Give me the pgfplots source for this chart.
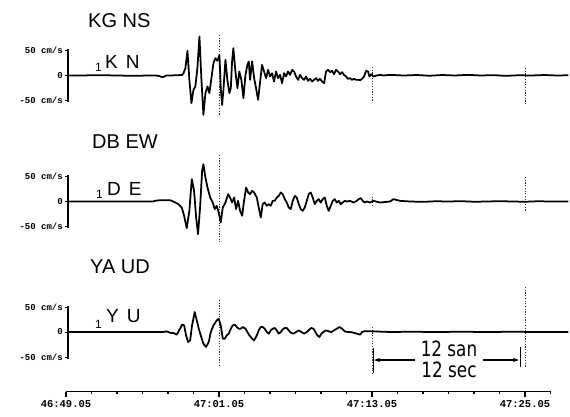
\documentclass[border=0pt]{standalone}
\usepackage{fontspec}
\setmainfont{Liberation Sans}
\newfontfamily\tickfont{Liberation Mono}
\newfontfamily\annfont{DejaVu Sans}[FakeStretch=0.8]
\usepackage{pgfplots}
\pgfplotsset{compat=1.18}
\usepackage{pgfplotstable}
\usetikzlibrary{arrows.meta}

% KG NS (t in s from 46:49.05, v in cm/s)
\pgfplotstableread{
t v
0.15 0
3.0 0.5
5.0 -0.5
7.0 0
7.3 -1
7.5 -3
7.7 -2.5
7.85 0
8.16 0
9.10 1
9.20 4
9.36 14.7
9.52 49.3
9.67 -8.7
9.83 -55.3
9.99 -28.7
10.14 -22
10.30 14.7
10.46 78
10.61 -5.3
10.77 -78.7
10.93 -35.3
11.09 -22
11.24 -35.3
11.40 -5.3
11.56 24.7
11.71 34.7
11.87 29.3
12.03 41.3
12.13 -25.3
12.24 -58.7
12.34 -28.7
12.50 31.3
12.65 -8.7
12.81 -35.3
12.92 -25.3
13.02 28
13.12 54.7
13.28 8
13.44 -25.3
13.59 8
13.75 -8.7
13.91 -45.3
14.07 1.3
14.22 21.3
14.33 28
14.43 -8.7
14.59 28
14.75 -5.3
14.90 -25.3
15.06 -48.7
15.22 -12
15.37 21.3
15.53 8
15.69 -5.3
15.84 11.3
16.00 -2
16.16 4.7
16.31 -12
16.47 8
16.63 -5.3
16.78 1.3
16.94 -15.3
17.10 4.7
17.25 -2
17.41 8
17.57 1.3
17.73 11.3
17.88 8
18.04 -2
18.20 -8.7
18.35 1.3
18.51 -5.3
18.67 -8.7
18.82 -2
18.98 -10.7
19.14 -6.7
19.29 -12
19.45 -8.7
19.61 -5.3
19.76 -10.7
19.92 -6.7
20.08 -12
20.24 -15.3
20.39 8
20.55 11.3
20.71 6.7
20.86 9.3
21.02 2.7
21.18 11.3
21.33 8
21.49 2.7
21.65 6.7
21.80 1.3
21.96 -2
22.12 -6.7
22.27 -5.3
22.43 -8.7
22.59 -6.7
22.75 -8.7
22.90 -8.7
23.06 -9.3
23.22 -6.7
23.37 -2
23.53 9.3
23.69 8
23.79 -2
23.95 2.7
24.10 -2
24.37 0
24.63 1.3
24.89 0
25.41 1.3
26.5 0
27.5 1
28.5 -0.5
29.5 1
30.5 0
31.5 1.3
32.5 0
33.5 0.7
34.5 -0.7
35.5 0.5
36.5 0
37.5 1
38.5 0
39.4 0.5
}\kgns

% DB EW
\pgfplotstableread{
t v
0.15 0
5.0 0
6.8 0
7.1 2
7.4 2.5
8.16 2.5
8.42 0
8.81 -5.3
9.07 -12
9.26 -28.7
9.46 -53.3
9.67 -18.7
9.86 44.7
10.04 21.3
10.20 -32
10.35 -65.3
10.51 -12
10.67 61.3
10.77 74.7
10.93 48
11.09 28
11.30 8
11.50 -2
11.66 -15.3
11.82 -8.7
11.97 -22
12.13 -42
12.29 -12
12.50 -2
12.71 14.7
12.86 8
13.02 -2
13.18 8
13.33 -15.3
13.49 1.3
13.65 -18.7
13.81 -28.7
13.96 1.3
14.12 28
14.28 18
14.43 14.7
14.59 21.3
14.75 18
14.96 8
15.11 -12
15.27 -32
15.42 -5.3
15.58 -2
15.74 -8.7
15.90 -5.3
16.05 -8.7
16.21 1.3
16.37 1.3
16.52 8
16.68 11.3
16.84 18
16.99 14.7
17.15 4.7
17.31 -2
17.46 -12
17.62 -15.3
17.78 1.3
17.94 11.3
18.09 8
18.25 -5.3
18.41 -15.3
18.56 -18.7
18.72 -12
18.88 1.3
19.03 14.7
19.19 18
19.35 8
19.50 -5.3
19.66 1.3
19.82 4.7
19.97 -2
20.13 4.7
20.29 8
20.45 -8.7
20.60 -18.7
20.76 -8.7
20.92 1.3
21.07 4.7
21.23 -2
21.39 1.3
21.54 -5.3
21.70 -2
21.86 1.3
22.01 0
22.27 1.3
22.54 -2
22.80 1.3
22.95 4.7
23.11 6.7
23.27 1.3
23.43 -2
23.58 0
23.84 -2
24.11 1.3
24.63 -2
25.41 0
25.68 4.7
26.2 1.3
27.0 0
28.0 -0.7
29.0 0.5
30.0 0
31.0 0.7
32.0 -0.5
33.0 0
34.0 0.7
35.0 0
36.0 -0.5
37.0 0.5
38.0 0
39.4 0
}\dbew

% YA UD
\pgfplotstableread{
t v
0.15 0
5.0 0
7.6 0
7.9 1.3
8.2 -2
8.42 -2
8.68 -5.3
8.94 6.7
9.10 14.7
9.26 13.3
9.41 -6.7
9.57 -20
9.73 -16.7
9.88 13.3
10.09 40
10.25 23.3
10.41 6.7
10.56 -6.7
10.77 -23.3
10.98 -30
11.19 -20
11.35 0
11.56 13.3
11.82 23.3
11.97 26.7
12.13 13.3
12.29 -13.3
12.45 -13.3
12.60 -6.7
12.76 -3.3
12.92 6.7
13.07 13.3
13.23 14.7
13.39 10
13.54 6.7
13.70 6.7
13.86 10
14.07 6.7
14.22 0
14.38 -6.7
14.59 -13.3
14.75 -16.7
14.96 -6.7
15.11 3.3
15.27 10
15.42 10
15.58 6.7
15.74 0
15.90 -3.3
16.05 3.3
16.21 6.7
16.37 8
16.52 3.3
16.68 -3.3
16.84 0
16.99 5.3
17.15 8
17.31 8
17.46 3.3
17.62 -1.3
17.83 -3.3
18.04 0
18.25 3.3
18.46 0
18.67 -3.3
18.88 0
19.09 5.3
19.24 8
19.40 6.7
19.56 0
19.71 -6.7
19.87 -10
20.03 -3.3
20.18 0
20.39 3.3
20.60 1.3
20.81 0
21.02 3.3
21.23 6.7
21.44 10
21.65 6.7
21.86 1.3
22.07 0
22.27 0
22.54 -1.3
22.80 -3.3
23.06 -5.3
23.22 0
23.37 1.3
23.58 1.3
24.11 1.3
25.41 0
27 0.5
29 0
31 0.5
33 0
35 0.5
37 0
39.4 0
}\yaud

\pgfplotsset{
  trace/.style={scale only axis, anchor=south west, width=500.4pt, height=53pt,
    xmin=0.15, xmax=39.4, ymin=-53, ymax=53,
    axis x line=none, axis y line=left, y axis line style={-, line width=1.1pt},
    clip=false, xtick=\empty, ytick={-50,0,50}, yticklabels={-50 cm/s,0,50 cm/s},
    tick align=outside, major tick length=3pt, ytick style={line width=1pt, black},
    yticklabel style={font=\fontsize{9}{9}\selectfont\tickfont\bfseries, inner sep=2pt}},
  sig/.style={black, line width=1.75pt, line join=round, mark=none},
  vdash/.style={black!80, line width=0.9pt, dash pattern=on 1.2pt off 1.5pt, mark=none},
}

\begin{document}
\begin{tikzpicture}
\useasboundingbox (0,0) rectangle (570pt,-416pt);

% panel 1
\begin{axis}[trace, at={(68pt,-102pt)}]
\addplot[vdash] coordinates {(12,81) (12,-79)};
\addplot[vdash] coordinates {(24,17) (24,-50)};
\addplot[vdash] coordinates {(36,15) (36,-59)};
\addplot[sig] table[x=t, y=v] {\kgns};
\end{axis}

% panel 2
\begin{axis}[trace, at={(68pt,-228pt)}]
\addplot[vdash] coordinates {(12,93) (12,-81)};
\addplot[vdash] coordinates {(24,10) (24,-10)};
\addplot[vdash] coordinates {(36,49) (36,-21)};
\addplot[sig] table[x=t, y=v] {\dbew};
\end{axis}

% panel 3
\begin{axis}[trace, at={(68pt,-358.5pt)}]
\addplot[vdash] coordinates {(12,64) (12,-70)};
\addplot[vdash] coordinates {(24,10) (24,-82)};
\addplot[vdash] coordinates {(36,90) (36,-72)};
\addplot[sig] table[x=t, y=v] {\yaud};
\end{axis}

% time axis
\begin{axis}[scale only axis, anchor=south west, at={(66pt,-391.5pt)},
  width=484.5pt, height=10pt, xmin=0, xmax=38, ymin=0, ymax=1,
  axis x line=bottom, axis y line=none, x axis line style={-, line width=1.3pt},
  xtick={0,12,24,36}, xticklabels={46:49.05,47:01.05,47:13.05,47:25.05},
  minor xtick={2,4,6,8,10,14,16,18,20,22,26,28,30,32,34,38},
  tick align=outside, major tick length=5pt, minor tick length=2.5pt,
  xtick style={line width=1.1pt, black}, ytick=\empty,
  xticklabel style={font=\fontsize{10.5}{10.5}\selectfont\tickfont\bfseries}]
\addplot[draw=none] coordinates {(0,0.5)};
\end{axis}

% titles
\node[anchor=base west, inner sep=0, font=\fontsize{20}{20}\selectfont] at (88pt,-27pt) {KG NS};
\node[anchor=base west, inner sep=0, font=\fontsize{20}{20}\selectfont] at (92pt,-148pt) {DB EW};
\node[anchor=base west, inner sep=0, font=\fontsize{20}{20}\selectfont] at (90pt,-273pt) {YA UD};

% inner labels
\node[anchor=base west, inner sep=0, font=\fontsize{19}{19}\selectfont] at (105pt,-68pt) {K\hspace{8pt}N};
\node[anchor=base west, inner sep=0, font=\fontsize{19}{19}\selectfont] at (107pt,-195pt) {D\hspace{8pt}E};
\node[anchor=base west, inner sep=0, font=\fontsize{19}{19}\selectfont] at (106pt,-322pt) {Y\hspace{8pt}U};
\node[anchor=base west, inner sep=0, font=\fontsize{12}{12}\selectfont] at (95pt,-71pt) {1};
\node[anchor=base west, inner sep=0, font=\fontsize{12}{12}\selectfont] at (96pt,-198pt) {1};
\node[anchor=base west, inner sep=0, font=\fontsize{12}{12}\selectfont] at (95pt,-328pt) {1};

% 12 sec bracket
\draw[line width=1pt] (373pt,-348pt) -- (373pt,-373pt);
\draw[line width=1pt] (520pt,-347pt) -- (520pt,-367pt);
\draw[line width=1.2pt, -{Stealth[length=6pt, width=4pt]}] (415pt,-360pt) -- (374pt,-360pt);
\draw[line width=1.2pt, -{Stealth[length=6pt, width=4pt]}] (483pt,-360pt) -- (519pt,-360pt);
\node[anchor=base, inner sep=0, font=\fontsize{21}{21}\annfont] at (449pt,-356pt) {12 san};
\node[anchor=base, inner sep=0, font=\fontsize{21}{21}\annfont] at (449pt,-377pt) {12 sec};
\end{tikzpicture}
\end{document}
